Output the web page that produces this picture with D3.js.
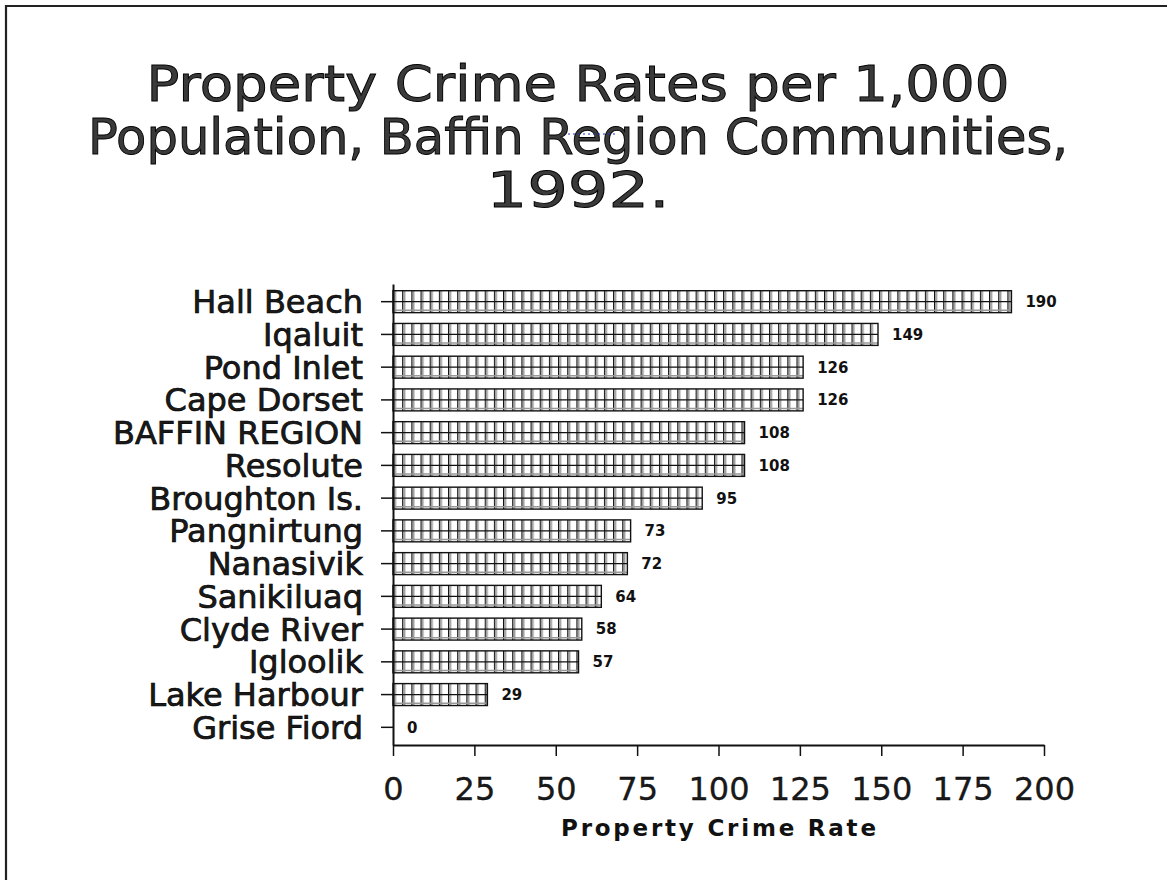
<!DOCTYPE html>
<html>
<head>
<meta charset="utf-8">
<script src="https://cdn.jsdelivr.net/npm/d3@7"></script>
<style>
  html, body { margin: 0; padding: 0; background: #fff; }
  svg { display: block; }
  text { font-family: "DejaVu Sans", "Liberation Sans", Arial, sans-serif; }
</style>
</head>
<body>
<svg id="chart" width="1167" height="880"></svg>
<script>
const titleLines = ["Property Crime Rates per 1,000", "Population, Baffin Region Communities,", "1992."];
const categories = ["Hall Beach","Iqaluit","Pond Inlet","Cape Dorset","BAFFIN REGION","Resolute","Broughton Is.","Pangnirtung","Nanasivik","Sanikiluaq","Clyde River","Igloolik","Lake Harbour","Grise Fiord"];
const values = [190,149,126,126,108,108,95,73,72,64,58,57,29,0];
const xTicks = [0,25,50,75,100,125,150,175,200];
const xAxisTitle = "Property Crime Rate";

const svg = d3.select("#chart");
const W = 1167, H = 880;
const FONT = "DejaVu Sans, Liberation Sans, Arial, sans-serif";

// frame (top and left edges only visible)
svg.append("path")
  .attr("d", `M6,${H} V6 H${W}`)
  .attr("fill", "none").attr("stroke", "#222").attr("stroke-width", 2.2);

// title
const titleWidths = [863, 980, 183];
svg.append("g").selectAll("text").data(titleLines).join("text")
  .attr("x", 578)
  .attr("y", (d, i) => 101 + i * 53)
  .attr("text-anchor", "middle")
  .attr("font-size", 49)
  .attr("textLength", (d, i) => titleWidths[i])
  .attr("lengthAdjust", "spacingAndGlyphs")
  .attr("fill", "#3a3a3a")
  .attr("stroke", "#000")
  .attr("stroke-width", 0.9)
  .text(d => d);
// small blue dotted artifact in title
svg.append("line")
  .attr("x1", 568).attr("x2", 617).attr("y1", 134).attr("y2", 134)
  .attr("stroke", "#2030d0").attr("stroke-width", 1).attr("stroke-dasharray", "2,3");

const x0 = 393, x1 = 1044, yTop = 284, yBot = 745;
const x = d3.scaleLinear().domain([0, 200]).range([x0, x1]);
const y = d3.scaleBand().domain(categories).range([yTop, yBot])
  .paddingInner(0.33).paddingOuter(0.205);

// hatch pattern
const defs = svg.append("defs");
const step = 9.17;
const pat = defs.append("pattern")
  .attr("id", "hatch")
  .attr("patternUnits", "userSpaceOnUse")
  .attr("width", step).attr("height", 1000)
  .attr("patternTransform", `translate(${x0},0)`);
pat.append("rect").attr("width", step).attr("height", 1000).attr("fill", "#fff");
pat.append("rect").attr("x", 1.6).attr("y", 0).attr("width", 1.6).attr("height", 1000).attr("fill", "#a0a0a0");
pat.append("rect").attr("x", 0).attr("y", 0).attr("width", 1.2).attr("height", 1000).attr("fill", "#111");

const data = categories.map((c, i) => ({ c, v: values[i] }));
const bars = svg.append("g");
const bg = bars.selectAll("g").data(data.filter(d => d.v > 0)).join("g");
bg.append("rect")
  .attr("x", x(0))
  .attr("y", d => y(d.c))
  .attr("width", d => x(d.v) - x(0))
  .attr("height", y.bandwidth())
  .attr("fill", "url(#hatch)");
bg.append("line")
  .attr("x1", x(0)).attr("x2", d => x(d.v))
  .attr("y1", d => y(d.c) + y.bandwidth() / 2).attr("y2", d => y(d.c) + y.bandwidth() / 2)
  .attr("stroke", "#111").attr("stroke-width", 1.2);
bg.append("line")
  .attr("x1", x(0)).attr("x2", d => x(d.v))
  .attr("y1", d => y(d.c) + y.bandwidth() - 2.3).attr("y2", d => y(d.c) + y.bandwidth() - 2.3)
  .attr("stroke", "#999").attr("stroke-width", 1.5);
bg.append("rect")
  .attr("x", x(0))
  .attr("y", d => y(d.c))
  .attr("width", d => x(d.v) - x(0))
  .attr("height", y.bandwidth())
  .attr("fill", "none").attr("stroke", "#111").attr("stroke-width", 1.4);

// value labels
svg.append("g").selectAll("text").data(data).join("text")
  .attr("x", d => x(d.v) + 14)
  .attr("y", d => y(d.c) + y.bandwidth() / 2)
  .attr("dy", "0.36em")
  .attr("font-size", 15)
  .attr("font-weight", "bold")
  .attr("fill", "#111")
  .text(d => d.v);

// y axis
const yAxis = svg.append("g")
  .attr("transform", `translate(${x0},0)`)
  .call(d3.axisLeft(y).tickSize(12).tickSizeOuter(0).tickPadding(18));
yAxis.select(".domain").attr("stroke", "#111").attr("stroke-width", 2);
yAxis.selectAll(".tick line").attr("stroke", "#111").attr("stroke-width", 1.5);
yAxis.selectAll(".tick text")
  .attr("font-size", 32)
  .attr("font-family", FONT)
  .attr("fill", "#1a1a1a")
  .attr("stroke", "#000").attr("stroke-width", 0.7)
  .attr("dy", "0.36em");

// x axis
const xAxis = svg.append("g")
  .attr("transform", `translate(0,${yBot})`)
  .call(d3.axisBottom(x).tickValues(xTicks).tickSize(11).tickSizeOuter(0).tickPadding(21));
xAxis.select(".domain").attr("stroke", "#111").attr("stroke-width", 2);
xAxis.selectAll(".tick line").attr("stroke", "#111").attr("stroke-width", 1.5);
xAxis.selectAll(".tick text")
  .attr("font-size", 32)
  .attr("font-family", FONT)
  .attr("fill", "#1a1a1a")
  .attr("stroke", "#000").attr("stroke-width", 0.3);

// x axis title
svg.append("text")
  .attr("x", (x0 + x1) / 2)
  .attr("y", 836)
  .attr("text-anchor", "middle")
  .attr("font-size", 23)
  .attr("font-weight", "bold")
  .attr("textLength", 315)
  .attr("lengthAdjust", "spacing")
  .attr("fill", "#111")
  .text(xAxisTitle);
</script>
</body>
</html>
